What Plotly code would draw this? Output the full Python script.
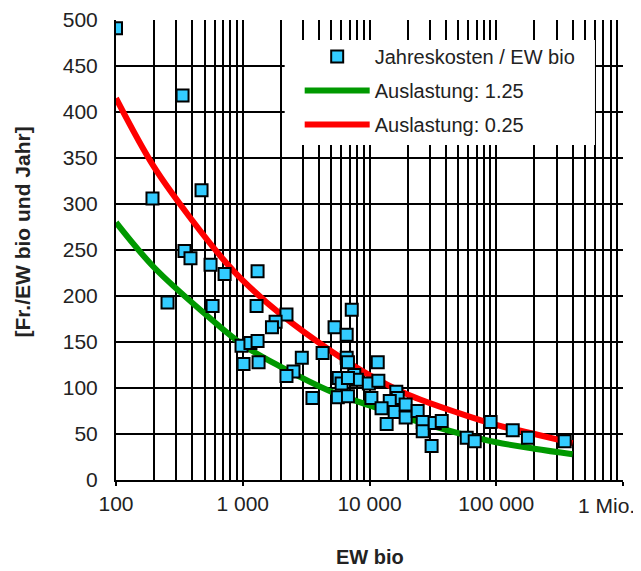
import plotly.graph_objects as go

# Data
pts_x = [100, 335, 194, 473, 347, 387, 557, 719, 1309, 255, 578, 1285, 2213, 1816, 1700,
         5300, 978, 1150, 1309, 1014, 1333, 2924, 2513, 2213, 4265, 3548, 7244, 6607, 6607,
         6761, 11614, 5715, 6026, 7585, 7943, 9886, 11749, 5623, 6761, 10351, 16271, 16700,
         14450, 12450, 15800, 19280, 19280, 13650, 23990, 26300, 26300, 30900, 32700, 37150,
         58480, 67600, 90200, 134900, 177800, 346700, 6761]
pts_y = [491, 418, 306, 315, 249, 241, 234, 224, 227, 193, 189, 189, 180, 172, 166,
         166, 146, 149, 151, 126, 128, 133, 118, 113, 138, 89, 185, 158, 133,
         128, 128, 111, 105, 114, 109, 105, 108, 90, 91, 89, 96, 89,
         86, 78, 74, 82, 68, 61, 75, 63, 53, 37, 62, 64,
         46, 42, 63, 54, 46, 42, 111]

red_x = [100, 200, 400, 700, 1000, 2000, 5000, 10000, 20000, 50000, 100000, 200000, 400000]
red_y = [415, 340, 282, 240, 217, 180, 140, 114, 93, 73, 60, 50, 40]
green_x = [100, 200, 500, 1000, 2000, 5000, 10000, 20000, 50000, 100000, 200000, 400000]
green_y = [280, 231, 181, 147, 123, 96, 81, 67, 51, 41, 34, 28]

x_tickvals = [100, 1000, 10000, 100000, 1000000]
x_ticktext = ["100", "1 000", "10 000", "100 000", ""]
last_tick_label = "1 Mio."
y_tickvals = list(range(0, 501, 50))

FONT = "Liberation Sans, Arial, sans-serif"
TXT = "#222222"

fig = go.Figure()
fig.add_trace(go.Scatter(x=green_x, y=green_y, mode="lines", name="Auslastung: 1.25",
                         legendgroup="g", legendrank=2,
                         line=dict(color="#009900", width=6, shape="spline")))
fig.add_trace(go.Scatter(x=red_x, y=red_y, mode="lines", name="Auslastung: 0.25",
                         legendgroup="r", legendrank=3,
                         line=dict(color="#FF0000", width=6, shape="spline")))
fig.add_trace(go.Scatter(x=pts_x, y=pts_y, mode="markers", name="Jahreskosten / EW bio",
                         legendgroup="p", legendrank=1,
                         marker=dict(symbol="square", size=12, color="#33CCFF",
                                     line=dict(color="black", width=2))))

minor_vals = [m * 10 ** e for e in range(2, 6) for m in range(2, 10)]

# The page body adds an 8px offset, so the figure is 8px smaller and the margins shifted.
fig.update_layout(
    width=633, height=563,
    margin=dict(l=108, r=18, t=12, b=91, autoexpand=False),
    paper_bgcolor="white", plot_bgcolor="white",
    font=dict(family=FONT, size=20, color=TXT),
    showlegend=True,
    legend=dict(x=0.3623, y=0.963, xanchor="left", yanchor="top",
                bgcolor="rgba(0,0,0,0)", borderwidth=0, itemwidth=65, tracegroupgap=5,
                font=dict(size=20, color=TXT)),
    xaxis=dict(type="log", range=[2, 6], tickvals=x_tickvals, ticktext=x_ticktext,
               automargin=False,
               showgrid=True, gridcolor="black", gridwidth=2,
               minor=dict(tickvals=minor_vals, showgrid=True, gridcolor="black", gridwidth=2),
               showline=True, linecolor="black", linewidth=2, mirror=False,
               ticks="outside", ticklen=4, tickwidth=2, tickcolor="black",
               tickfont=dict(size=21), zeroline=False),
    yaxis=dict(range=[0, 500], tickvals=y_tickvals, showgrid=True, gridcolor="black",
               automargin=False,
               gridwidth=2, showline=True, linecolor="black", linewidth=2,
               ticks="", tickfont=dict(size=21), ticklabelstandoff=12, zeroline=False),
    shapes=[
        dict(type="rect", xref="paper", yref="paper", x0=0.3327, x1=0.9447,
             y0=0.7283, y1=0.9565, fillcolor="white", line=dict(width=0), layer="above"),
    ],
    annotations=[
        dict(text=last_tick_label, xref="x", yref="paper", x=6, y=0, yanchor="top",
             xanchor="right", xshift=14, yshift=-12, showarrow=False,
             font=dict(size=21, color=TXT)),
        dict(text="<b>EW bio</b>", xref="paper", yref="paper", x=0.5, y=-0.168,
             showarrow=False, font=dict(size=20, color=TXT), yanchor="middle"),
        dict(text="<b>[Fr./EW bio und Jahr]</b>", xref="paper", yref="paper", x=-0.1846,
             y=0.539, textangle=-90, showarrow=False, font=dict(size=21, color=TXT),
             xanchor="center", yanchor="middle"),
    ],
)

fig.write_html("out.html")
